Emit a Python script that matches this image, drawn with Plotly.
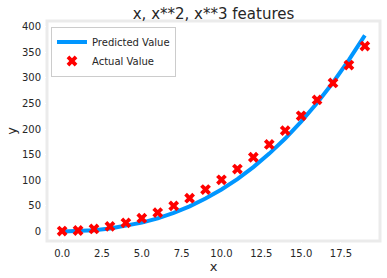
import plotly.graph_objects as go

x_vals = list(range(20))
actual_y = [1, 2, 5, 10, 17, 26, 37, 50, 65, 82, 101, 122, 145, 170, 197, 226, 257, 290, 325, 362]
predicted_y = [0.01, 0.65, 2.5, 5.8, 10.7, 17.3, 25.8, 36.4, 49.1, 64.3, 82.0, 102.4, 125.7,
               152.1, 181.6, 214.5, 250.9, 291.0, 335.0, 383.0]

title_text = "x, x**2, x**3 features"
font_family = "DejaVu Sans"
text_color = "#262626"

fig = go.Figure()
fig.add_trace(go.Scatter(
    x=x_vals, y=predicted_y, mode="lines", name="Predicted Value",
    line=dict(color="#0096ff", width=4),
))
fig.add_trace(go.Scatter(
    x=x_vals, y=actual_y, mode="markers", name="Actual Value",
    marker=dict(symbol="x", color="#ff0000", size=9.5, line=dict(width=0)),
))

fig.update_layout(
    width=387, height=278,
    margin=dict(l=47, r=7, t=21, b=37),
    paper_bgcolor="white", plot_bgcolor="white",
    font=dict(family=font_family, color=text_color, size=10),
    title=dict(text=title_text, x=0.5, xref="paper", xanchor="center",
               y=1 - 13.5 / 278, yanchor="middle",
               font=dict(size=15, color=text_color, family=font_family)),
    showlegend=True,
    legend=dict(x=0.012, y=0.975, xanchor="left", yanchor="top",
                bgcolor="white", bordercolor="#cccccc", borderwidth=1,
                font=dict(size=10, color=text_color, family=font_family),
                itemwidth=30, tracegroupgap=0),
    shapes=[dict(type="rect", xref="paper", yref="paper", x0=0, x1=1, y0=0, y1=1,
                 line=dict(color="#ebebeb", width=3), fillcolor="rgba(0,0,0,0)", layer="below")],
)
fig.update_xaxes(
    range=[-0.95, 19.95], showgrid=False, zeroline=False, showline=False,
    tickmode="array", tickvals=[0, 2.5, 5, 7.5, 10, 12.5, 15, 17.5],
    ticktext=["0.0", "2.5", "5.0", "7.5", "10.0", "12.5", "15.0", "17.5"],
    ticks="outside", ticklen=3, tickcolor="white",
    tickfont=dict(size=10, color=text_color),
    title=dict(text="x", font=dict(size=13, color=text_color), standoff=0),
)
fig.update_yaxes(
    range=[-18.5, 411], showgrid=False, zeroline=False, showline=False,
    tickmode="array", tickvals=[0, 50, 100, 150, 200, 250, 300, 350, 400],
    ticks="outside", ticklen=3, tickcolor="white",
    tickfont=dict(size=10, color=text_color),
    title=dict(text="y", font=dict(size=13, color=text_color), standoff=2),
)

fig.write_html("out.html")
